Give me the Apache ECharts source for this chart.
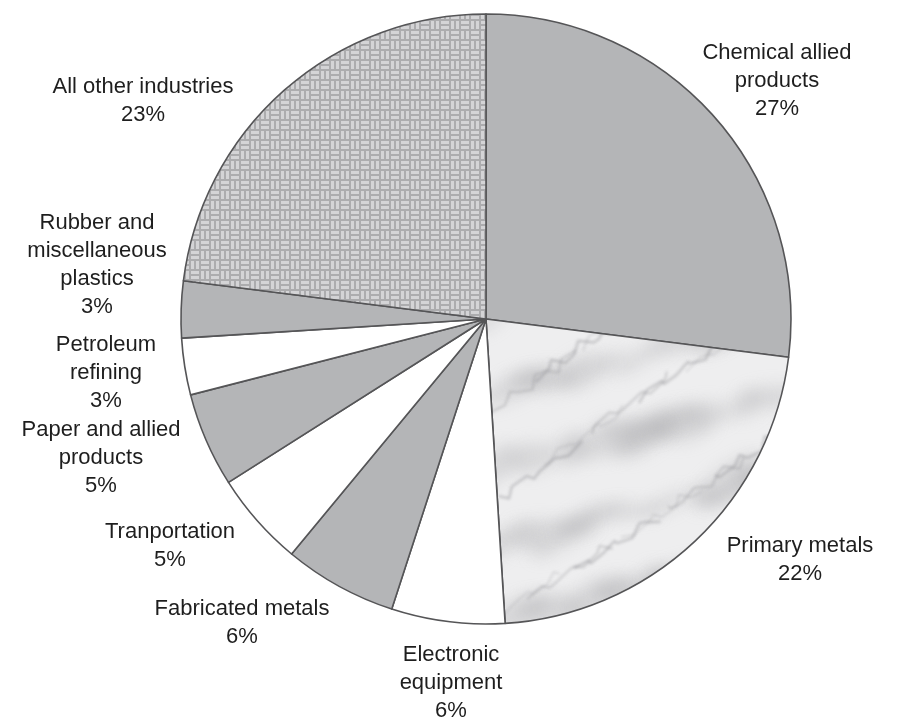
<!DOCTYPE html>
<html>
<head>
<meta charset="utf-8">
<script src="https://cdn.jsdelivr.net/npm/echarts@6/dist/echarts.min.js"></script>
<style>
  html, body { margin: 0; padding: 0; background: #ffffff; }
  #chart { width: 897px; height: 722px; }
</style>
</head>
<body>
<div id="chart"></div>
<script>
// Industry shares, clockwise from 12 o'clock
const industries = [
  'Chemical allied\nproducts',
  'Primary metals',
  'Electronic\nequipment',
  'Fabricated metals',
  'Tranportation',
  'Paper and allied\nproducts',
  'Petroleum\nrefining',
  'Rubber and\nmiscellaneous\nplastics',
  'All other industries'
];
const shares = [27, 22, 6, 6, 5, 5, 3, 3, 23];

// Label block centres (layout only)
const labelSpots = [
  [777, 81], [800, 560], [451, 683], [242, 623], [170, 546],
  [101, 458], [106, 373], [97, 265], [143, 101]
];

// Woven texture for the "other industries" slice
function weavePattern() {
  const c = document.createElement('canvas');
  const s = 10;
  c.width = s * 2; c.height = s * 2;
  const g = c.getContext('2d');
  g.fillStyle = '#acacae';
  g.fillRect(0, 0, c.width, c.height);
  g.fillStyle = '#d4d4d6';
  g.fillRect(1, 1, 8, 3); g.fillRect(1, 6, 8, 3);
  g.fillRect(11, 11, 8, 3); g.fillRect(11, 16, 8, 3);
  g.fillRect(11, 1, 3, 8); g.fillRect(16, 1, 3, 8);
  g.fillRect(1, 11, 3, 8); g.fillRect(6, 11, 3, 8);
  return c;
}

// Soft marble texture for the primary metals slice (one sheet, no tiling seams)
function marblePattern() {
  const c = document.createElement('canvas');
  c.width = 900; c.height = 730;
  const g = c.getContext('2d');
  g.fillStyle = '#eeeeef';
  g.fillRect(0, 0, c.width, c.height);

  // cloudy grey patches
  g.filter = 'blur(8px)';
  g.fillStyle = 'rgba(170,170,175,0.32)';
  for (let k = 0; k < 48; k++) {
    const x = 490 + (k * 97) % 310, y = 320 + (k * 53) % 310;
    g.beginPath();
    g.ellipse(x, y, 18 + (k % 5) * 6, 7 + (k % 3) * 4, -0.6 + (k % 4) * 0.2, 0, Math.PI * 2);
    g.fill();
  }

  // soft irregular veins
  g.filter = 'blur(1.8px)';
  g.strokeStyle = 'rgba(140,140,145,0.45)';
  g.lineJoin = 'round';
  for (let k = 0; k < 20; k++) {
    g.lineWidth = 1 + (k % 3) * 0.6;
    g.beginPath();
    let x = 480 + (k * 47) % 320;
    let y = 630 - (k * 31) % 300;
    g.moveTo(x, y);
    for (let t = 0; t < 9; t++) {
      x += 9 + 7 * Math.sin(t * 2.3 + k * 1.1);
      y -= 6 + 9 * Math.cos(t * 1.9 + k * 0.7);
      g.lineTo(x, y);
    }
    g.stroke();
  }
  g.filter = 'none';
  return c;
}

const weave = { image: weavePattern(), repeat: 'repeat' };
const marble = { image: marblePattern(), repeat: 'no-repeat' };
const fills = ['#b4b5b7', marble, '#ffffff', '#b4b5b7', '#ffffff',
               '#b4b5b7', '#ffffff', '#b4b5b7', weave];

const chart = echarts.init(document.getElementById('chart'), null, { renderer: 'canvas' });
chart.setOption({
  animation: false,
  backgroundColor: '#ffffff',
  series: [{
    type: 'pie',
    center: [486, 319],
    radius: [0, 305],
    startAngle: 90,
    clockwise: true,
    data: industries.map((n, i) => ({
      name: n,
      value: shares[i],
      itemStyle: { color: fills[i] }
    })),
    itemStyle: { borderColor: '#555557', borderWidth: 1.6 },
    label: {
      show: true,
      position: 'outside',
      formatter: p => p.name + '\n' + p.value + '%',
      color: '#1e1e1e',
      fontFamily: '"Liberation Sans", Arial, sans-serif',
      fontSize: 22,
      lineHeight: 28,
      align: 'center',
      overflow: 'none',
      width: 300
    },
    labelLine: { show: false },
    labelLayout: p => ({
      x: labelSpots[p.dataIndex][0],
      y: labelSpots[p.dataIndex][1],
      align: 'center',
      verticalAlign: 'middle'
    }),
    emphasis: { disabled: true }
  }]
});
</script>
</body>
</html>
